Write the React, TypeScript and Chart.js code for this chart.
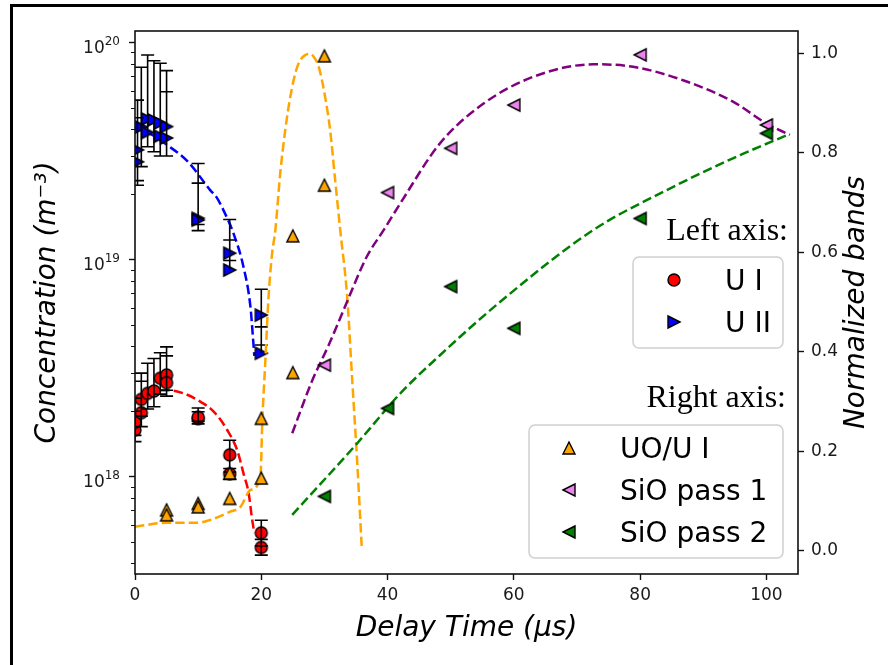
import React, { useEffect, useRef } from 'react';
import { Chart, registerables } from 'chart.js';

Chart.register(...registerables);

// ---------------- axis ticks ----------------
const xTickValues = [0, 20, 40, 60, 80, 100];
const leftTickValues = [1e18, 1e19, 1e20];
const leftTickBase = '10';
const leftTickExponents = ['18', '19', '20'];
const rightTickValues = [0, 0.2, 0.4, 0.6, 0.8, 1.0];
const rightTickLabels = ['0.0', '0.2', '0.4', '0.6', '0.8', '1.0'];

// ---------------- U I (left axis) ----------------
const uiT = [0, 0, 1, 1, 2, 3, 4, 5, 5, 10, 10, 15, 15, 20, 20];
const uiV = [1.64e18, 1.78e18, 1.97e18, 2.27e18, 2.42e18, 2.48e18, 2.84e18, 2.94e18, 2.71e18, 1.85e18, 1.88e18, 1.26e18, 1.03e18, 5.51e17, 4.72e17];
const uiLo = [1.45e18, 1.55e18, 1.7e18, 1.9e18, 2.05e18, 2.1e18, 2.4e18, 2.5e18, 2.35e18, 1.75e18, 1.8e18, 1.05e18, 0.97e18, 4.8e17, 4.35e17];
const uiHi = [2.0e18, 2.3e18, 2.75e18, 3.0e18, 3.33e18, 3.5e18, 3.72e18, 3.96e18, 3.6e18, 2.07e18, 1.99e18, 1.47e18, 1.09e18, 6.3e17, 5.14e17];

// ---------------- U II (left axis) ----------------
const u2T = [0.4, 0.4, 1, 2, 3, 4, 5, 2, 4, 5, 10, 10, 15, 15, 20, 20];
const u2V = [2.82e19, 3.2e19, 4.08e19, 4.44e19, 4.4e19, 4.26e19, 4.1e19, 3.85e19, 3.7e19, 3.63e19, 1.55e19, 1.52e19, 1.07e19, 8.95e18, 5.55e18, 3.7e18];
const u2Lo = [2.2e19, 2.31e19, 2.68e19, 3.31e19, 3.14e19, 3.0e19, 3.0e19, null, null, 3.0e19, 1.36e19, 1.45e19, 9.9e18, null, 4.04e18, null];
const u2Hi = [5.43e19, 4.5e19, 7.69e19, 8.76e19, 8.24e19, 8.02e19, 7.42e19, null, null, 5.93e19, 2.77e19, 2.25e19, 1.53e19, 1.23e19, 7.3e18, 4.9e18];

// ---------------- UO/U I (right axis) ----------------
const uoT = [5, 5, 10, 10, 15, 15, 20, 20, 25, 25, 30, 30];
const uoV = [0.082, 0.072, 0.095, 0.088, 0.156, 0.105, 0.266, 0.146, 0.633, 0.358, 0.995, 0.735];

// ---------------- SiO pass 1 / pass 2 (right axis) ----------------
const s1T = [30, 40, 50, 60, 80, 100];
const s1V = [0.373, 0.72, 0.809, 0.896, 0.997, 0.856];
const s2T = [30, 40, 50, 60, 80, 100];
const s2V = [0.109, 0.286, 0.531, 0.447, 0.668, 0.839];

// ---------------- fitted curves ----------------
const blueFitT = [0, 2, 5.1, 8.4, 11.9, 13, 14, 15.6, 17.2, 18.3, 18.7, 18.9];
const blueFitV = [4.05e19, 3.85e19, 3.37e19, 2.82e19, 2.09e19, 1.92e19, 1.69e19, 1.32e19, 9.2e18, 6.0e18, 4.3e18, 3.6e18];

const redFitT = [4, 5.1, 7.7, 10.4, 12.5, 14.6, 16.2, 17.2, 18.0, 18.5, 18.9];
const redFitV = [2.5e18, 2.5e18, 2.42e18, 2.21e18, 1.99e18, 1.64e18, 1.32e18, 1.03e18, 8.4e17, 6.5e17, 5.5e17];

const orangeFitT = [0, 5, 10, 12, 15, 16.7, 18.3, 19.86, 20.17, 20.65, 21.12, 21.68, 22.23, 23.0, 23.8, 24.6, 25.7, 27.0, 27.8, 28.3, 29.1, 30.1, 30.9, 31.7, 32.5, 33.6, 34.4, 35.2, 35.9];
const orangeFitV = [0.048, 0.056, 0.056, 0.062, 0.078, 0.088, 0.122, 0.148, 0.263, 0.383, 0.504, 0.594, 0.645, 0.759, 0.846, 0.913, 0.973, 0.997, 0.999, 0.993, 0.973, 0.913, 0.846, 0.745, 0.645, 0.511, 0.343, 0.176, 0.008];

const purpleFitT = [24.9, 28.0, 30.7, 33.6, 36.7, 39.4, 42.0, 48.3, 55.2, 63.1, 72.6, 78.9, 86.8, 94.7, 100.0, 103.7];
const purpleFitV = [0.236, 0.34, 0.414, 0.501, 0.591, 0.645, 0.698, 0.819, 0.899, 0.953, 0.978, 0.973, 0.946, 0.903, 0.859, 0.836];

const greenFitT = [24.9, 35.2, 42.0, 48.3, 57.8, 72.6, 84.2, 94.7, 103.7];
const greenFitV = [0.072, 0.216, 0.316, 0.393, 0.5, 0.645, 0.725, 0.789, 0.838];

// ---------------- legend texts ----------------
const legendLeftTitle = 'Left axis:';
const legendRightTitle = 'Right axis:';
const legendLeftLabels = ['U I', 'U II'];
const legendRightLabels = ['UO/U I', 'SiO pass 1', 'SiO pass 2'];

const FONT = '"DejaVu Sans", sans-serif';

type Shape = 'circle' | 'up' | 'right' | 'left';

function makeMarker(shape: Shape, fill: string): HTMLCanvasElement {
  const size = 12;
  const pad = 3;
  const S = size + pad * 2;
  const c = document.createElement('canvas');
  c.width = S;
  c.height = S;
  const g = c.getContext('2d')!;
  const m = S / 2;
  const h = size / 2;
  g.beginPath();
  if (shape === 'circle') {
    g.arc(m, m, h, 0, Math.PI * 2);
  } else if (shape === 'up') {
    g.moveTo(m, m - h);
    g.lineTo(m - h, m + h);
    g.lineTo(m + h, m + h);
    g.closePath();
  } else if (shape === 'right') {
    g.moveTo(m + h, m);
    g.lineTo(m - h, m - h);
    g.lineTo(m - h, m + h);
    g.closePath();
  } else {
    g.moveTo(m - h, m);
    g.lineTo(m + h, m - h);
    g.lineTo(m + h, m + h);
    g.closePath();
  }
  g.fillStyle = fill;
  g.fill();
  g.lineWidth = 1.4;
  g.strokeStyle = '#000';
  g.stroke();
  return c;
}

const pts = (t: number[], v: number[]) => t.map((x, i) => ({ x, y: v[i] }));

function drawErrorBars(ctx: CanvasRenderingContext2D, xs: any, ys: any, T: number[], V: number[], lo: (number | null)[], hi: (number | null)[]) {
  const cap = 6.5;
  ctx.beginPath();
  for (let i = 0; i < T.length; i++) {
    const l = lo[i];
    const h = hi[i];
    if (l == null && h == null) continue;
    const x = xs.getPixelForValue(T[i]);
    const yl = ys.getPixelForValue(l == null ? V[i] : l);
    const yh = ys.getPixelForValue(h == null ? V[i] : h);
    ctx.moveTo(x, yl);
    ctx.lineTo(x, yh);
    if (l != null) {
      ctx.moveTo(x - cap, yl);
      ctx.lineTo(x + cap, yl);
    }
    if (h != null) {
      ctx.moveTo(x - cap, yh);
      ctx.lineTo(x + cap, yh);
    }
  }
  ctx.stroke();
}

function roundRect(ctx: CanvasRenderingContext2D, x: number, y: number, w: number, h: number, r: number) {
  ctx.beginPath();
  ctx.moveTo(x + r, y);
  ctx.lineTo(x + w - r, y);
  ctx.arcTo(x + w, y, x + w, y + r, r);
  ctx.lineTo(x + w, y + h - r);
  ctx.arcTo(x + w, y + h, x + w - r, y + h, r);
  ctx.lineTo(x + r, y + h);
  ctx.arcTo(x, y + h, x, y + h - r, r);
  ctx.lineTo(x, y + r);
  ctx.arcTo(x, y, x + r, y, r);
  ctx.closePath();
}

export default function App() {
  const ref = useRef<HTMLCanvasElement>(null);

  useEffect(() => {
    const mRed = makeMarker('circle', '#ff0000');
    const mBlue = makeMarker('right', '#0000ff');
    const mOrange = makeMarker('up', '#ffa500');
    const mViolet = makeMarker('left', '#ee82ee');
    const mGreen = makeMarker('left', '#008000');

    const ERR_AFTER_INDEX = 6;

    const overlay = {
      id: 'overlay',
      afterDatasetDraw(chart: any, args: any) {
        if (args.index !== ERR_AFTER_INDEX) return;
        const ctx = chart.ctx as CanvasRenderingContext2D;
        const a = chart.chartArea;
        ctx.save();
        ctx.beginPath();
        ctx.rect(a.left, a.top, a.right - a.left, a.bottom - a.top);
        ctx.clip();
        ctx.strokeStyle = '#000';
        ctx.lineWidth = 1.6;
        const xs = chart.scales.x;
        const yl = chart.scales.yL;
        drawErrorBars(ctx, xs, yl, uiT, uiV, uiLo, uiHi);
        drawErrorBars(ctx, xs, yl, u2T, u2V, u2Lo, u2Hi);
        ctx.restore();
      },
      afterDatasetsDraw(chart: any) {
        const ctx = chart.ctx as CanvasRenderingContext2D;
        const a = chart.chartArea;
        ctx.save();
        ctx.strokeStyle = '#111';
        ctx.lineWidth = 1.6;
        ctx.strokeRect(a.left, a.top, a.right - a.left, a.bottom - a.top);
        ctx.restore();
      },
      afterDraw(chart: any) {
        const ctx = chart.ctx as CanvasRenderingContext2D;
        const a = chart.chartArea;
        const yl = chart.scales.yL;
        ctx.save();
        // minor log ticks
        ctx.strokeStyle = '#111';
        ctx.lineWidth = 1.2;
        ctx.beginPath();
        for (let d = 17; d <= 19; d++) {
          for (let k = 2; k <= 9; k++) {
            const v = k * Math.pow(10, d);
            if (v < yl.min || v > yl.max) continue;
            const y = Math.round(yl.getPixelForValue(v)) + 0.5;
            ctx.moveTo(a.left - 4, y);
            ctx.lineTo(a.left, y);
          }
        }
        ctx.stroke();

        // left tick labels: 10 with superscript exponent
        ctx.fillStyle = '#1a1a1a';
        ctx.textBaseline = 'alphabetic';
        ctx.textAlign = 'right';
        leftTickValues.forEach((v, i) => {
          const y = yl.getPixelForValue(v);
          const right = 120;
          ctx.font = '12px ' + FONT;
          const ew = ctx.measureText(leftTickExponents[i]).width;
          ctx.fillText(leftTickExponents[i], right, y + 2.5);
          ctx.font = '17px ' + FONT;
          ctx.fillText(leftTickBase, right - ew, y + 10.5);
        });

        // right axis title
        ctx.save();
        ctx.translate(857, (a.top + a.bottom) / 2);
        ctx.rotate(-Math.PI / 2);
        ctx.font = 'italic 28px ' + FONT;
        ctx.fillStyle = '#000';
        ctx.textAlign = 'center';
        ctx.textBaseline = 'middle';
        ctx.fillText('Normalized bands', 0, 0);
        ctx.restore();

        // legend headings
        ctx.fillStyle = '#000';
        ctx.font = '32px "Liberation Serif", serif';
        ctx.textAlign = 'right';
        ctx.textBaseline = 'alphabetic';
        ctx.fillText(legendLeftTitle, 788, 240);
        ctx.fillText(legendRightTitle, 786, 407);

        // legend boxes
        const drawBox = (x: number, y: number, w: number, h: number) => {
          roundRect(ctx, x, y, w, h, 6);
          ctx.fillStyle = 'rgba(255,255,255,0.85)';
          ctx.fill();
          ctx.strokeStyle = '#d0d0d0';
          ctx.lineWidth = 1.5;
          ctx.stroke();
        };
        drawBox(633, 257, 150, 91);
        drawBox(529, 425, 254, 133);

        ctx.font = '28px ' + FONT;
        ctx.textAlign = 'left';
        ctx.fillStyle = '#000';
        const leftMarkers = [mRed, mBlue];
        const leftRowsY = [280, 322];
        legendLeftLabels.forEach((lab, i) => {
          const mk = leftMarkers[i];
          ctx.drawImage(mk, 674 - mk.width / 2, leftRowsY[i] - mk.height / 2);
          ctx.fillText(lab, 725, leftRowsY[i] + 9.5);
        });
        const rightMarkers = [mOrange, mViolet, mGreen];
        const rightRowsY = [448, 490, 532];
        legendRightLabels.forEach((lab, i) => {
          const mk = rightMarkers[i];
          ctx.drawImage(mk, 569 - mk.width / 2, rightRowsY[i] - mk.height / 2);
          ctx.fillText(lab, 620, rightRowsY[i] + 9.5);
        });

        // figure frame
        ctx.fillStyle = '#000';
        ctx.fillRect(10, 4, 3, 661);
        ctx.fillRect(10, 4, 878, 3);
        ctx.restore();
      },
    };

    const markerDs = (label: string, T: number[], V: number[], img: HTMLCanvasElement, axis: string) => ({
      label,
      data: pts(T, V),
      yAxisID: axis,
      xAxisID: 'x',
      showLine: false,
      pointStyle: img,
      pointRadius: 6,
      pointHoverRadius: 6,
      clip: 0,
    });
    const lineDs = (label: string, T: number[], V: number[], color: string, axis: string) => ({
      label,
      data: pts(T, V),
      yAxisID: axis,
      xAxisID: 'x',
      showLine: true,
      borderColor: color,
      backgroundColor: color,
      borderWidth: 2.5,
      borderDash: [9.4, 4.1],
      pointRadius: 0,
      pointHoverRadius: 0,
      cubicInterpolationMode: 'monotone',
      fill: false,
    });

    const tickFont = { family: FONT, size: 17 };
    const titleFont = { family: FONT, size: 28, style: 'italic' };

    const chart = new Chart(ref.current!, {
      type: 'scatter',
      data: {
        datasets: [
          markerDs('SiO pass 2', s2T, s2V, mGreen, 'yR'),
          markerDs('SiO pass 1', s1T, s1V, mViolet, 'yR'),
          markerDs('UO/U I', uoT, uoV, mOrange, 'yR'),
          lineDs('SiO pass 2 fit', greenFitT, greenFitV, '#008000', 'yR'),
          lineDs('SiO pass 1 fit', purpleFitT, purpleFitV, '#800080', 'yR'),
          lineDs('UO/U I fit', orangeFitT, orangeFitV, '#ffa500', 'yR'),
          markerDs('U II', u2T, u2V, mBlue, 'yL'),
          markerDs('U I', uiT, uiV, mRed, 'yL'),
          lineDs('U II fit', blueFitT, blueFitV, '#0000ff', 'yL'),
          lineDs('U I fit', redFitT, redFitV, '#ff0000', 'yL'),
        ] as any,
      },
      options: {
        animation: false,
        responsive: false,
        events: [],
        layout: { padding: { top: 31, left: 0, right: 0, bottom: 0 } },
        plugins: { legend: { display: false }, tooltip: { enabled: false } },
        scales: {
          x: {
            type: 'linear',
            position: 'bottom',
            min: 0,
            max: 105,
            afterBuildTicks: (s: any) => { s.ticks = xTickValues.map((v) => ({ value: v })); },
            afterFit: (s: any) => { s.height = 91; },
            ticks: { font: tickFont, color: '#1a1a1a', padding: 5, maxRotation: 0, autoSkip: false },
            grid: { drawOnChartArea: false, drawTicks: true, tickLength: 6, tickColor: '#111', tickWidth: 1.4 },
            border: { display: false },
            title: { display: true, text: 'Delay Time (μs)', font: titleFont as any, color: '#000', padding: { top: 0, bottom: 19 } },
          },
          yL: {
            type: 'logarithmic',
            position: 'left',
            min: 3.56e17,
            max: 1.13e20,
            afterBuildTicks: (s: any) => { s.ticks = leftTickValues.map((v) => ({ value: v })); },
            afterFit: (s: any) => { s.width = 135; },
            ticks: { display: false, autoSkip: false },
            grid: { drawOnChartArea: false, drawTicks: true, tickLength: 6, tickColor: '#111', tickWidth: 1.4 },
            border: { display: false },
            title: { display: true, text: 'Concentration (m⁻³)', font: titleFont as any, color: '#000', padding: { top: 31, bottom: 0 } },
          },
          yR: {
            type: 'linear',
            position: 'right',
            min: -0.047,
            max: 1.045,
            afterBuildTicks: (s: any) => { s.ticks = rightTickValues.map((v) => ({ value: v })); },
            afterFit: (s: any) => { s.width = 90; },
            ticks: {
              font: tickFont,
              color: '#1a1a1a',
              padding: 7,
              autoSkip: false,
              callback: (_v: any, i: number) => rightTickLabels[i],
            },
            grid: { drawOnChartArea: false, drawTicks: true, tickLength: 6, tickColor: '#111', tickWidth: 1.4 },
            border: { display: false },
          },
        },
      } as any,
      plugins: [overlay as any],
    });
    return () => chart.destroy();
  }, []);

  return (
    <div style={{ position: 'absolute', left: 0, top: 0, width: 888, height: 665, background: '#fff', overflow: 'hidden' }}>
      <canvas ref={ref} width={888} height={665} style={{ display: 'block' }} />
    </div>
  );
}
